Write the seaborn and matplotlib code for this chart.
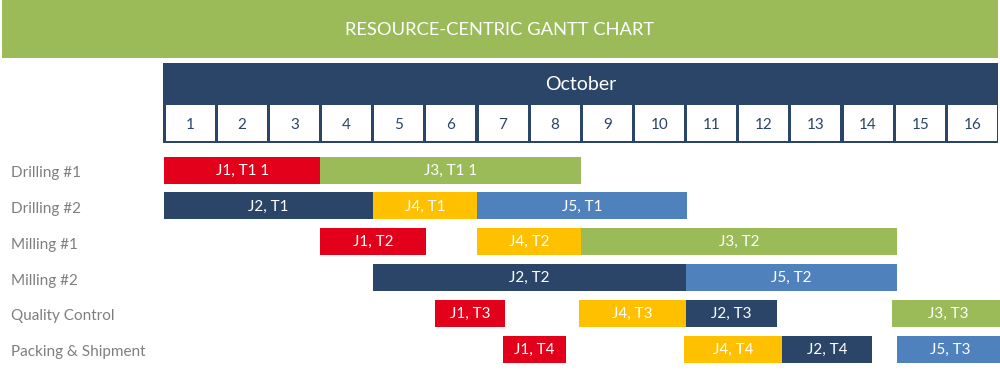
import matplotlib
matplotlib.use("Agg")
import matplotlib.pyplot as plt
from matplotlib.patches import Rectangle
import seaborn as sns

sns.set_theme(style="white")
plt.rcParams["font.family"] = ["Lato", "DejaVu Sans"]

# ------------------------------------------------------------
# DATA
# ------------------------------------------------------------
title = "RESOURCE-CENTRIC GANTT CHART"
month = "October"
days = [str(d) for d in range(1, 17)]

resources = ["Drilling #1", "Drilling #2", "Milling #1", "Milling #2",
             "Quality Control", "Packing & Shipment"]

# one entry per bar (start / end in days from Oct 1)
bar_resource = ["Drilling #1", "Drilling #1",
                "Drilling #2", "Drilling #2", "Drilling #2",
                "Milling #1", "Milling #1", "Milling #1",
                "Milling #2", "Milling #2",
                "Quality Control", "Quality Control", "Quality Control", "Quality Control",
                "Packing & Shipment", "Packing & Shipment", "Packing & Shipment", "Packing & Shipment"]
bar_job = ["J1", "J3",
           "J2", "J4", "J5",
           "J1", "J4", "J3",
           "J2", "J5",
           "J1", "J4", "J2", "J3",
           "J1", "J4", "J2", "J5"]
bar_label = ["J1, T1 1", "J3, T1 1",
             "J2, T1", "J4, T1", "J5, T1",
             "J1, T2", "J4, T2", "J3, T2",
             "J2, T2", "J5, T2",
             "J1, T3", "J4, T3", "J2, T3", "J3, T3",
             "J1, T4", "J4, T4", "J2, T4", "J5, T3"]
bar_start = [0, 3,
             0, 4, 6,
             3, 6, 8,
             4, 10,
             5.2, 7.96, 10, 13.96,
             6.5, 9.97, 11.85, 14.05]
bar_end = [3, 8,
           4, 6, 10.03,
           5.03, 8, 14.06,
           10, 14.06,
           6.54, 10, 11.75, 16.1,
           7.7, 11.85, 13.57, 16.1]

job_colors = {"J1": "#E2001A", "J2": "#2A4568", "J3": "#9BBB59",
              "J4": "#FFC000", "J5": "#4F81BD"}

NAVY = "#2A4568"
GREEN = "#9BBB59"

# ------------------------------------------------------------
# FIGURE (pixel based layout, 1000 x 371)
# ------------------------------------------------------------
W, H = 1000, 371
fig = plt.figure(figsize=(W / 100, H / 100), dpi=100)


def px_axes(x0, y0, x1, y1):
    """axes from pixel box (top-left origin)"""
    return fig.add_axes([x0 / W, 1 - y1 / H, (x1 - x0) / W, (y1 - y0) / H])


# title banner
bg = px_axes(0, 0, W, H)
bg.set_xlim(0, W)
bg.set_ylim(H, 0)
bg.axis("off")
bg.add_patch(Rectangle((2, 0), 996, 58, color=GREEN, lw=0))
bg.text(500, 30, title, color="white", fontsize=13.2, ha="center", va="center")
bg.add_patch(Rectangle((163, 63), 835, 80, color=NAVY, lw=0))
bg.text(580.5, 84, month, color="white", fontsize=14, ha="center", va="center")

# day cells, same x scale as bars
X0, X1 = 164, 998.5
hd = px_axes(X0, 103, X1, 143)
hd.set_xlim(0, len(days))
hd.set_ylim(0, 1)
hd.axis("off")
for i, d in enumerate(days):
    hd.add_patch(Rectangle((i + 0.03, 0.06), 0.94, 0.9, color="white", lw=0))
    hd.text(i + 0.5, 0.46, d, color=NAVY, fontsize=11, ha="center", va="center")

# ------------------------------------------------------------
# GANTT BARS
# ------------------------------------------------------------
row_px = 35.8
ax = px_axes(X0, 150, X1, H)
ax.set_xlim(0, len(days))
ax.set_ylim((H - 170) / row_px, (150 - 170) / row_px)
ypos = [resources.index(r) for r in bar_resource]
widths = [e - s for s, e in zip(bar_start, bar_end)]
colors = [job_colors[j] for j in bar_job]
bars = ax.barh(ypos, widths, left=bar_start, height=27 / row_px,
               color=colors, edgecolor="none", clip_on=False)
for s, w, y, lab in zip(bar_start, widths, ypos, bar_label):
    ax.text(s + w / 2, y + 0.02, lab, color="white", fontsize=11,
            ha="center", va="center")

ax.set_yticks([i + 0.05 for i in range(len(resources))])
ax.set_yticklabels(resources, color="#7F7F7F", fontsize=11, ha="left")
ax.tick_params(axis="y", length=0, pad=(X0 - 11) * 0.72)
ax.set_xticks([])
sns.despine(ax=ax, left=True, bottom=True)
ax.grid(False)
ax.set_facecolor("none")

plt.savefig("out.png", dpi=100)
plt.close()
